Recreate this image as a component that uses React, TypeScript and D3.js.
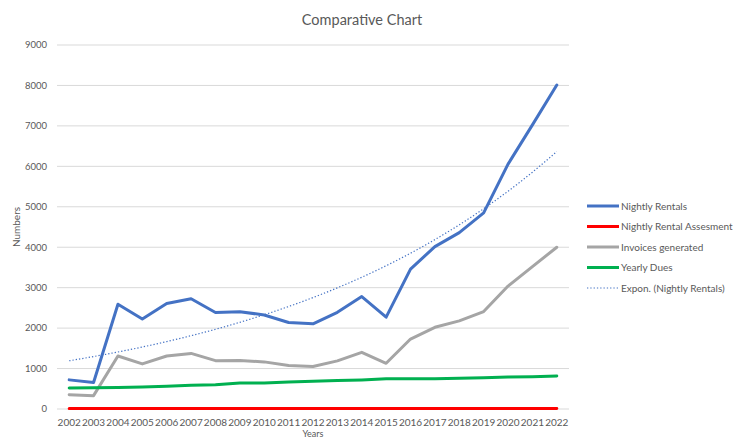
import React from 'react';
import * as d3 from 'd3';

const years = [
  '2002', '2003', '2004', '2005', '2006', '2007', '2008', '2009', '2010', '2011', '2012',
  '2013', '2014', '2015', '2016', '2017', '2018', '2019', '2020', '2021', '2022',
];
const nightlyRentals = [
  720, 655, 2590, 2225, 2610, 2725, 2385, 2405, 2325, 2140, 2105,
  2390, 2780, 2270, 3460, 4015, 4360, 4850, 6055, 7025, 8010,
];
const rentalAssessment = [
  10, 10, 10, 10, 10, 10, 10, 10, 10, 10, 10,
  10, 10, 10, 10, 10, 10, 10, 10, 12, 15,
];
const invoicesGenerated = [
  355, 330, 1310, 1115, 1310, 1375, 1195, 1200, 1165, 1075, 1050,
  1190, 1400, 1130, 1730, 2020, 2180, 2410, 3040, 3520, 4000,
];
const yearlyDues = [
  520, 525, 530, 545, 565, 585, 600, 640, 645, 665, 685,
  705, 720, 745, 745, 750, 760, 775, 790, 800, 815,
];
const yTicks = [0, 1000, 2000, 3000, 4000, 5000, 6000, 7000, 8000, 9000];

const series = [
  { name: 'Nightly Rentals', values: nightlyRentals, color: '#4472C4' },
  { name: 'Nightly Rental Assesment', values: rentalAssessment, color: '#FF0000' },
  { name: 'Invoices generated', values: invoicesGenerated, color: '#A5A5A5' },
  { name: 'Yearly Dues', values: yearlyDues, color: '#00B050' },
];

// exponential trendline fitted the way Excel does it (least squares on ln y)
function expFit(vals: number[]) {
  const xs = vals.map((_, i) => i + 1);
  const ly = vals.map(v => Math.log(v));
  const mx = d3.mean(xs)!;
  const my = d3.mean(ly)!;
  const b = d3.sum(xs, (x, i) => (x - mx) * (ly[i] - my)) / d3.sum(xs, x => (x - mx) ** 2);
  const a = Math.exp(my - b * mx);
  return (x: number) => a * Math.exp(b * x);
}

const W = 733;
const H = 438;
const left = 57;
const right = 569;
const top = 45;
const bottom = 409;
const font = 'Lato, "Open Sans", sans-serif';
const textColor = '#595959';

const App: React.FC = () => {
  const x = d3.scalePoint<string>().domain(years).range([left, right]).padding(0.5);
  const y = d3.scaleLinear().domain([0, 9000]).range([bottom, top]);

  const line = d3
    .line<number>()
    .x((_, i) => x(years[i])!)
    .y(d => y(d));

  const trend = expFit(nightlyRentals);
  const trendPts = d3.range(0, 20.01, 0.25).map(t => [
    x(years[0])! + (t / 20) * (x(years[20])! - x(years[0])!),
    y(trend(t + 1)),
  ] as [number, number]);
  const trendPath = d3.line()(trendPts);

  const legendItems = [
    ...series.map(s => ({ name: s.name, color: s.color, dotted: false })),
    { name: 'Expon. (Nightly Rentals)', color: '#4472C4', dotted: true },
  ];

  return (
    <svg
      width={W}
      height={H}
      style={{ position: 'absolute', left: 0, top: 0, background: '#fff' }}
      fontFamily={font}
    >
      <text x={362} y={25} textAnchor="middle" fontSize={14.5} fill={textColor}>
        Comparative Chart
      </text>

      {yTicks.map(t => (
        <g key={t}>
          <line x1={left} x2={right} y1={y(t)} y2={y(t)} stroke="#d9d9d9" strokeWidth={1} />
          <text x={47} y={y(t)} dy="0.35em" textAnchor="end" fontSize={9.5} fill={textColor}>
            {t}
          </text>
        </g>
      ))}

      {years.map(yr => (
        <text key={yr} x={x(yr)} y={426} textAnchor="middle" fontSize={10} fill={textColor}>
          {yr}
        </text>
      ))}

      <text
        transform={`translate(20,${(top + bottom) / 2}) rotate(-90)`}
        textAnchor="middle"
        fontSize={10}
        fill={textColor}
      >
        Numbers
      </text>
      <text x={313} y={437} textAnchor="middle" fontSize={9} fill={textColor}>
        Years
      </text>

      {series.map(s => (
        <path
          key={s.name}
          d={line(s.values) || ''}
          fill="none"
          stroke={s.color}
          strokeWidth={3}
          strokeLinejoin="round"
          strokeLinecap="round"
        />
      ))}
      <path d={trendPath || ''} fill="none" stroke="#4472C4" strokeWidth={1.2} strokeDasharray="1.3 2" />

      {legendItems.map((it, i) => {
        const ly = 206 + i * 20.5;
        return (
          <g key={it.name}>
            <line
              x1={587}
              x2={619}
              y1={ly}
              y2={ly}
              stroke={it.color}
              strokeWidth={it.dotted ? 1.2 : 3}
              strokeDasharray={it.dotted ? '1.3 2' : undefined}
            />
            <text x={621} y={ly} dy="0.35em" fontSize={10} fill={textColor}>
              {it.name}
            </text>
          </g>
        );
      })}
    </svg>
  );
};

export default App;
